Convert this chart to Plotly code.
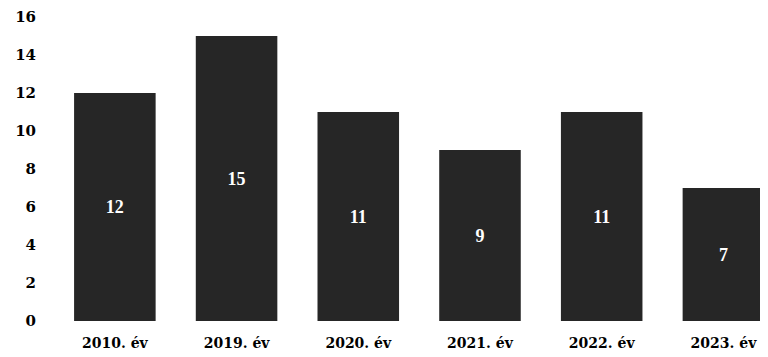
import plotly.graph_objects as go

years = ['2010. év', '2019. év', '2020. év', '2021. év', '2022. év', '2023. év']
counts = [12, 15, 11, 9, 11, 7]

serif = 'Liberation Serif, DejaVu Serif, Times New Roman, serif'
wide_serif = 'DejaVu Serif, Liberation Serif, serif'

fig = go.Figure()

fig.add_trace(go.Bar(x=years, y=counts, text=counts,
                     textposition='inside', insidetextanchor='middle',
                     textfont=dict(color='white', size=18, family=serif, weight='bold'),
                     marker=dict(color='#262626', line=dict(width=0)),
                     hoverinfo='x+y'))

# page body has an 8px margin, so the figure is a bit smaller than the window
fig.update_layout(width=760, height=349,
                  margin=dict(l=46, r=2, t=9, b=36),
                  plot_bgcolor='white', paper_bgcolor='white',
                  bargap=0.33, showlegend=False,
                  font=dict(family=serif, size=15, color='black', weight='bold'))

fig.update_xaxes(range=[-0.5, 5.35], showgrid=False, showline=False, zeroline=False,
                 automargin=False,
                 tickfont=dict(size=14, family=wide_serif, weight='bold'), ticklabelstandoff=12)
fig.update_yaxes(range=[0, 16], dtick=2, showgrid=False, showline=False, zeroline=False,
                 automargin=False,
                 tickfont=dict(size=15, family=wide_serif, weight='bold'), ticklabelstandoff=17)

fig.write_html("out.html")
